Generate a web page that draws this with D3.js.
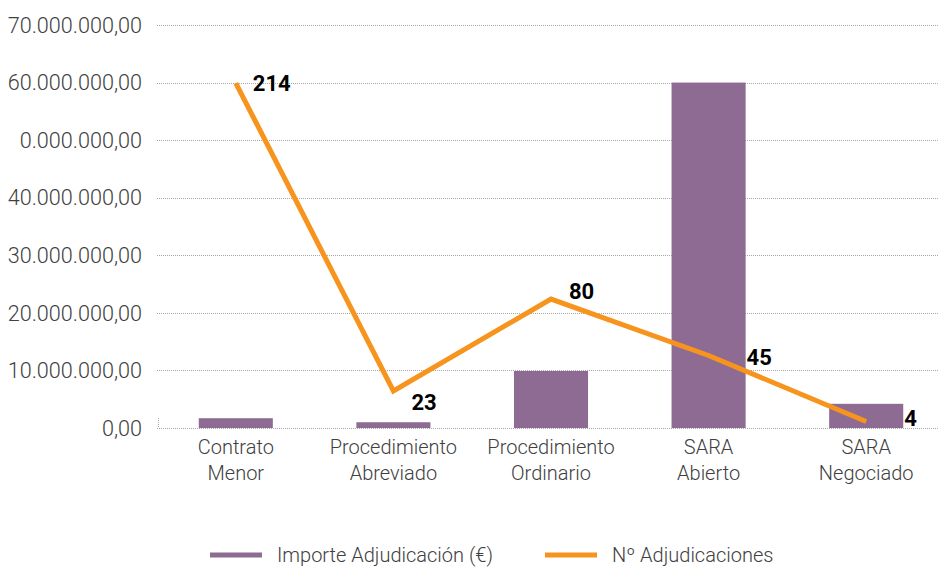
<!DOCTYPE html>
<html>
<head>
<meta charset="utf-8">
<script src="https://cdn.jsdelivr.net/npm/d3@7"></script>
<style>
  body { margin: 0; background: #fff; }
  text { font-family: Roboto, "Noto Sans", sans-serif; }
</style>
</head>
<body>
<div id="chart"></div>
<script>
// data
var categories = ['Contrato Menor', 'Procedimiento Abreviado', 'Procedimiento Ordinario', 'SARA Abierto', 'SARA Negociado'];
var categoryLines = [['Contrato', 'Menor'], ['Procedimiento', 'Abreviado'], ['Procedimiento', 'Ordinario'], ['SARA', 'Abierto'], ['SARA', 'Negociado']];
var importe = [1700000, 1000000, 9900000, 60000000, 4200000];
var adjudicaciones = [214, 23, 80, 45, 4];
var yTicks = [0, 10000000, 20000000, 30000000, 40000000, 50000000, 60000000, 70000000];
var yTickLabels = ['0,00', '10.000.000,00', '20.000.000,00', '30.000.000,00', '40.000.000,00', '0.000.000,00', '60.000.000,00', '70.000.000,00'];
var seriesNames = ['Importe Adjudicación (€)', 'Nº Adjudicaciones'];

var width = 938, height = 569;
var margin = {top: 25, right: -7, bottom: 141, left: 157};
var barColor = '#8e6b93';
var lineColor = '#f7941d';

var svg = d3.select('#chart')
  .append('svg')
  .attr('width', width)
  .attr('height', height);

var xScale = d3.scaleBand()
  .domain(categories)
  .range([margin.left, width - margin.right])
  .paddingInner(0.53)
  .paddingOuter(0.265);

var yScale = d3.scaleLinear().domain([0, 70000000]).range([height - margin.bottom, margin.top]);
var y2Scale = d3.scaleLinear().domain([0, 250]).range([height - margin.bottom, margin.top]);

// gridlines (dotted)
svg.append('g')
  .selectAll('line')
  .data(yTicks)
  .enter()
  .append('line')
  .attr('x1', margin.left)
  .attr('x2', width)
  .attr('y1', function(d) { return Math.round(yScale(d)) + 0.5; })
  .attr('y2', function(d) { return Math.round(yScale(d)) + 0.5; })
  .attr('stroke', '#a6a6a6')
  .attr('stroke-width', 1)
  .attr('stroke-dasharray', '1,1');

// small left stub at baseline
svg.append('line')
  .attr('x1', margin.left + 1.5).attr('x2', margin.left + 1.5)
  .attr('y1', yScale(0) - 10).attr('y2', yScale(0))
  .attr('stroke', '#a6a6a6')
  .attr('stroke-dasharray', '1,1');

// y tick labels
svg.append('g')
  .selectAll('text')
  .data(yTicks)
  .enter()
  .append('text')
  .attr('x', 142)
  .attr('y', function(d) { return yScale(d); })
  .attr('dy', '0.36em')
  .attr('text-anchor', 'end')
  .attr('font-size', 21.6)
  .attr('font-weight', 300)
  .attr('fill', '#404040')
  .text(function(d, i) { return yTickLabels[i]; });

// bars
svg.append('g')
  .selectAll('rect')
  .data(importe)
  .enter()
  .append('rect')
  .attr('x', function(d, i) { return xScale(categories[i]); })
  .attr('y', function(d) { return yScale(d); })
  .attr('width', xScale.bandwidth())
  .attr('height', function(d) { return yScale(0) - yScale(d); })
  .attr('fill', barColor);

// category labels
var catG = svg.append('g')
  .selectAll('text')
  .data(categoryLines)
  .enter()
  .append('text')
  .attr('text-anchor', 'middle')
  .attr('font-size', 20)
  .attr('font-weight', 300)
  .attr('fill', '#404040');

catG.selectAll('tspan')
  .data(function(d, i) { return d.map(function(t) { return {t: t, i: i}; }); })
  .enter()
  .append('tspan')
  .attr('x', function(d) { return xScale(categories[d.i]) + xScale.bandwidth() / 2; })
  .attr('y', function(d, j) { return 454 + j * 26; })
  .text(function(d) { return d.t; });

// line
var line = d3.line()
  .x(function(d, i) { return xScale(categories[i]) + xScale.bandwidth() / 2; })
  .y(function(d) { return y2Scale(d); });

svg.append('path')
  .datum(adjudicaciones)
  .attr('d', line)
  .attr('fill', 'none')
  .attr('stroke', lineColor)
  .attr('stroke-width', 5)
  .attr('stroke-linejoin', 'miter');

// data labels
var labelDx = [17, 18, 18, 38, 38];
var labelDy = [0, 11, -8, 2, -3];
svg.append('g')
  .selectAll('text')
  .data(adjudicaciones)
  .enter()
  .append('text')
  .attr('x', function(d, i) { return xScale(categories[i]) + xScale.bandwidth() / 2 + labelDx[i]; })
  .attr('y', function(d, i) { return y2Scale(d) + labelDy[i]; })
  .attr('dy', '0.36em')
  .attr('font-size', 22)
  .attr('font-weight', 'bold')
  .attr('fill', '#000')
  .text(function(d) { return d; });

// legend
var legendX = [210, 545];
var legend = svg.append('g')
  .selectAll('g')
  .data(seriesNames)
  .enter()
  .append('g');

legend.append('line')
  .attr('x1', function(d, i) { return legendX[i]; })
  .attr('x2', function(d, i) { return legendX[i] + 52; })
  .attr('y1', 555)
  .attr('y2', 555)
  .attr('stroke', function(d, i) { return i === 0 ? barColor : lineColor; })
  .attr('stroke-width', 5);

legend.append('text')
  .attr('x', function(d, i) { return legendX[i] + 67; })
  .attr('y', 555)
  .attr('dy', '0.36em')
  .attr('font-size', 20)
  .attr('font-weight', 300)
  .attr('fill', '#404040')
  .text(function(d) { return d; });
</script>
</body>
</html>
